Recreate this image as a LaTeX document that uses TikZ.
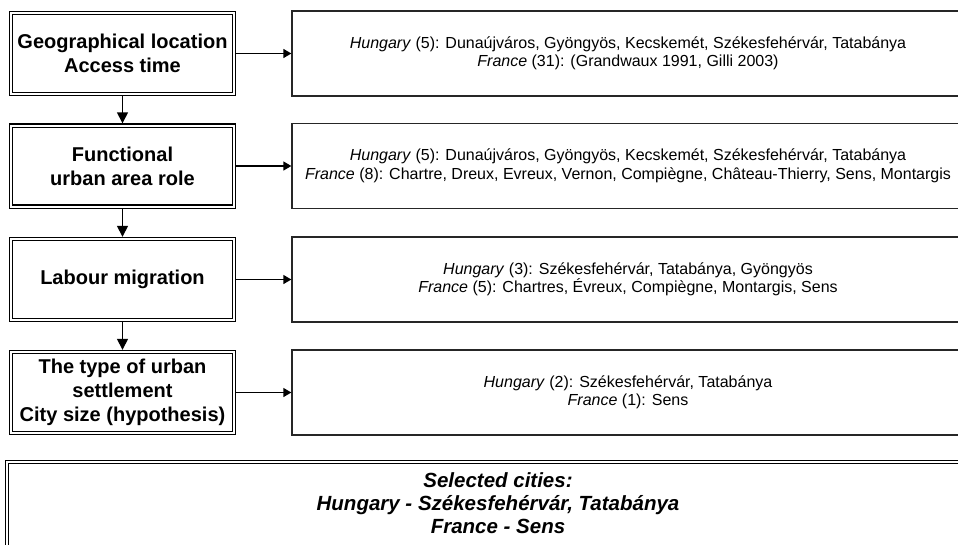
\documentclass[tikz,border=0pt]{standalone}
\usepackage{fontspec}
\setmainfont{Liberation Sans}
\usetikzlibrary{arrows.meta}
\begin{document}
\begin{tikzpicture}[x=1pt,y=-1pt,
  leftbox/.style={draw=black, double, double distance=2pt, line width=1.1pt,
    minimum width=223pt, minimum height=81pt, inner sep=0pt, outer sep=2.2pt,
    align=center, font=\fontsize{20}{24}\selectfont\bfseries},
  rightbox/.style={draw=black!85, line width=1.3pt, minimum width=672pt,
    minimum height=85pt, inner sep=0pt, align=center,
    font=\fontsize{16}{18.5}\selectfont},
  finalbox/.style={draw=black, double, double distance=2pt, line width=1.1pt,
    minimum width=982pt, minimum height=90pt, inner sep=0pt,
    text depth=8pt, align=center,
    font=\fontsize{20.5}{23}\selectfont\bfseries\itshape},
  harr/.style={line width=1.3pt, -{Triangle[length=8pt,width=9pt]}},
  varr/.style={line width=1.5pt, -{Triangle[length=11pt,width=11pt]}}]
\useasboundingbox (0,0) rectangle (958,544);
\clip (0,0) rectangle (958,544);
\fill[white] (0,0) rectangle (958,544);

\node[leftbox] (L1) at (122.5,53.5) {Geographical location\\Access time};
\node[leftbox] (L2) at (122.5,166) {Functional\\urban area role};
\node[leftbox] (L3) at (122.5,279.5) {Labour migration};
\node[leftbox] (L4) at (122.5,392.5) {The type of urban\\settlement\\City size (hypothesis)};

\node[rightbox] (R1) at (628,53.5) {\textit{Hungary} (5): Dunaújváros, Gyöngyös, Kecskemét, Székesfehérvár, Tatabánya\\\textit{France} (31): (Grandwaux 1991, Gilli 2003)};
\node[rightbox] (R2) at (628,166) {\textit{Hungary} (5): Dunaújváros, Gyöngyös, Kecskemét, Székesfehérvár, Tatabánya\\\textit{France} (8): Chartre, Dreux, Evreux, Vernon, Compiègne, Château-Thierry, Sens, Montargis};
\node[rightbox] (R3) at (628,279.5) {\textit{Hungary} (3): Székesfehérvár, Tatabánya, Gyöngyös\\\textit{France} (5): Chartres, Évreux, Compiègne, Montargis, Sens};
\node[rightbox] (R4) at (628,392.5) {\textit{Hungary} (2): Székesfehérvár, Tatabánya\\\textit{France} (1): Sens};

\node[finalbox] (F) at (498,507) {Selected cities:\\Hungary - Székesfehérvár, Tatabánya\\France - Sens};

\draw[harr] (L1.east) -- (R1.west);
\draw[harr] (L2.east) -- (R2.west);
\draw[harr] (L3.east) -- (R3.west);
\draw[harr] (L4.east) -- (R4.west);
\draw[varr] (L1.south) -- (L2.north);
\draw[varr] (L2.south) -- (L3.north);
\draw[varr] (L3.south) -- (L4.north);
\end{tikzpicture}
\end{document}
